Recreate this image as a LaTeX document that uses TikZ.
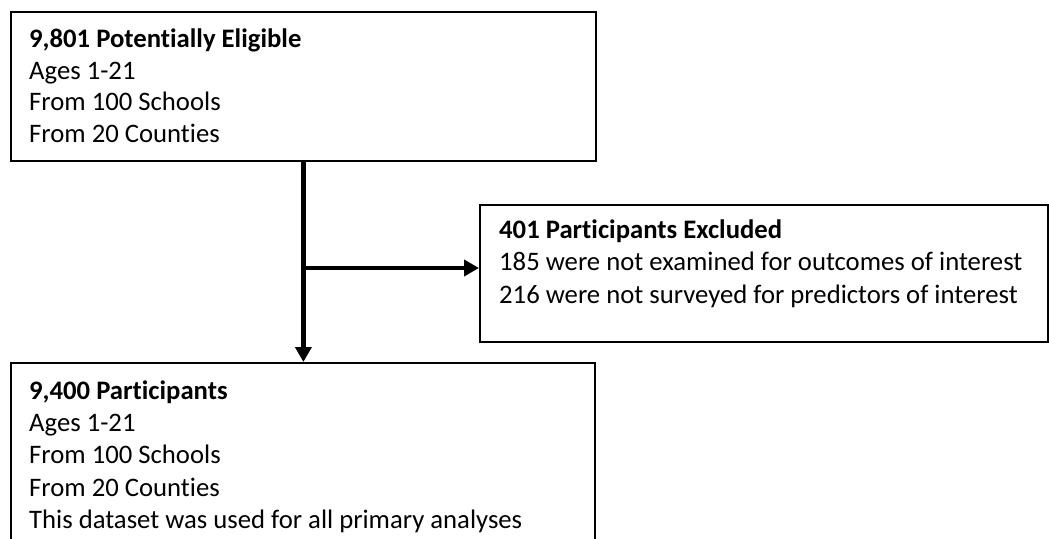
\documentclass[tikz,border=0pt]{standalone}
\usepackage{fontspec}
\setmainfont{Carlito}[Ligatures=NoCommon]
\usetikzlibrary{arrows.meta,calc}

\begin{document}
\begin{tikzpicture}[
  x=1pt, y=-1pt,
  stage/.style={draw=black, fill=white, line width=1.8pt, rectangle, inner sep=0pt, anchor=north west},
  stagetext/.style={anchor=north west, align=left, inner sep=0pt, text=black},
  flow/.style={draw=black, line width=4.2pt, -{Triangle[length=15pt,width=16pt]}},
]
\useasboundingbox (0,0) rectangle (1049,538);

% ---- box frames ----
\node[stage, minimum width=585pt, minimum height=149pt] (elig) at (10,11) {};
\node[stage, minimum width=568pt, minimum height=137pt] (excl) at (479,204) {};
\node[stage, minimum width=584pt, minimum height=230pt] (part) at (10,362) {};

% ---- box texts ----
\node[stagetext, font=\fontsize{26.7}{31.5}\selectfont] (eligtxt) at (29,28.8)
  {\textbf{9,801 Potentially Eligible}\\Ages 1-21\\From 100 Schools\\From 20 Counties};
\node[stagetext, font=\fontsize{26.7}{32.5}\selectfont] (excltxt) at (499,219.5)
  {\textbf{401 Participants Excluded}\\185 were not examined for outcomes of interest\\216 were not surveyed for predictors of interest};
\node[stagetext, font=\fontsize{26.7}{32.2}\selectfont] (parttxt) at (29,380.5)
  {\textbf{9,400 Participants}\\Ages 1-21\\From 100 Schools\\From 20 Counties\\This dataset was used for all primary analyses};

% ---- connectors ----
\coordinate (branch) at (302.5,268);
\draw[flow] (elig.south) -- (elig.south |- part.north);
\draw[flow] (branch) -- (branch -| excl.west);

\end{tikzpicture}
\end{document}
